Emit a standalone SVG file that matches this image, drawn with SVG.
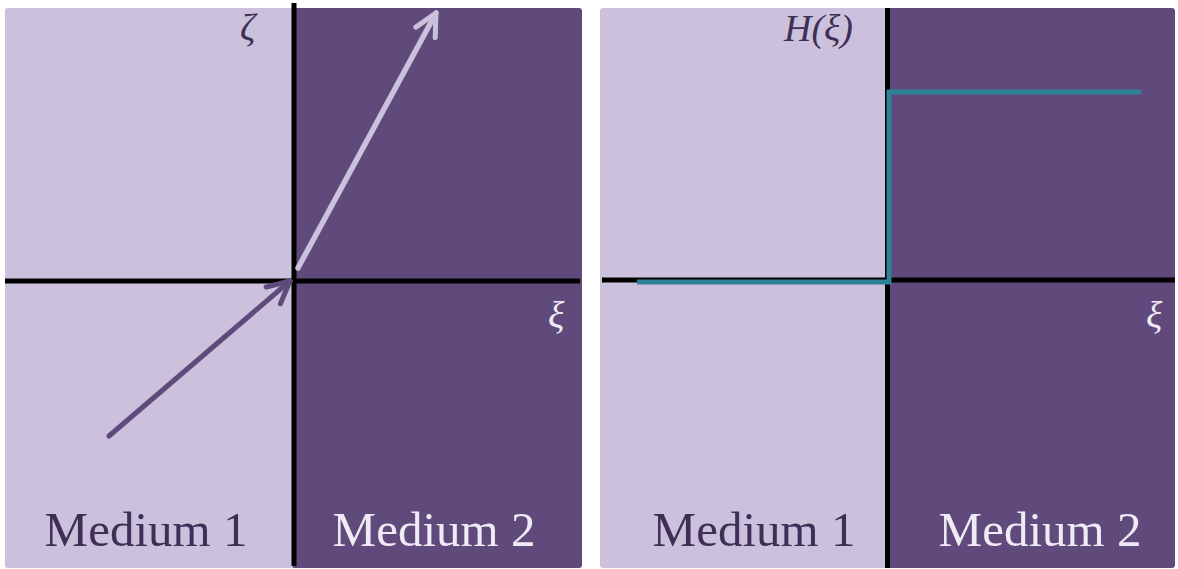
<svg xmlns="http://www.w3.org/2000/svg" width="1178" height="569" viewBox="0 0 1178 569">
<style>
.light{fill:#cbc1dc}
.dark{fill:#5f4a7b}
.axis{stroke:#000;stroke-width:5;fill:none}
.lbl{font-family:"Liberation Serif",serif;font-size:49px;text-anchor:middle}
.math{font-family:"Liberation Serif",serif;font-style:italic;font-size:38px}
.tdark{fill:#3f2f56}
.tlight{fill:#efeaf5}
</style>
<defs>
<marker id="headDark" markerUnits="userSpaceOnUse" orient="auto" overflow="visible" markerWidth="1" markerHeight="1">
<path d="M-22,-11 L0,0 L-22,11" fill="none" stroke="#5f4a7b" stroke-width="5" stroke-linecap="round" stroke-linejoin="round"/>
</marker>
<marker id="headLight" markerUnits="userSpaceOnUse" orient="auto" overflow="visible" markerWidth="1" markerHeight="1">
<path d="M-22,-11 L0,0 L-22,11" fill="none" stroke="#cbc1dc" stroke-width="5" stroke-linecap="round" stroke-linejoin="round"/>
</marker>
</defs>
<rect width="1178" height="569" fill="#fff"/>
<g id="panel-left">
<rect class="light" x="5" y="8" width="292" height="560" rx="3"/>
<rect class="dark" x="293" y="8" width="289" height="560" rx="3"/>
<rect class="dark" x="293" y="8" width="10" height="560"/>
<line class="axis" x1="5" y1="281" x2="580" y2="281"/>
<line class="axis" x1="294" y1="3" x2="294" y2="566"/>
<text class="math tdark" x="240" y="40">ζ</text>
<text class="math tlight" x="548" y="328">ξ</text>
<text class="lbl tdark" x="146" y="546">Medium 1</text>
<text class="lbl tlight" x="434" y="546">Medium 2</text>
</g>
<g id="panel-right">
<rect class="light" x="600" y="8" width="290" height="560" rx="3"/>
<rect class="dark" x="887" y="8" width="288" height="560" rx="3"/>
<rect class="dark" x="887" y="8" width="10" height="560"/>
<line class="axis" x1="602" y1="280" x2="1175" y2="280"/>
<line class="axis" x1="887.5" y1="8" x2="887.5" y2="568"/>
<text class="math tdark" x="784" y="41">H(ξ)</text>
<text class="math tlight" x="1146" y="328">ξ</text>
<text class="lbl tdark" x="754" y="546">Medium 1</text>
<text class="lbl tlight" x="1040" y="546">Medium 2</text>
</g>
<g id="connectors">
<line x1="109" y1="436" x2="290" y2="281" stroke="#5f4a7b" stroke-width="5" stroke-linecap="round" marker-end="url(#headDark)"/>
<line x1="298" y1="268" x2="436" y2="13" stroke="#cbc1dc" stroke-width="5.5" stroke-linecap="round" marker-end="url(#headLight)"/>
<polyline points="637,282 889,282 889,92 1141,92" fill="none" stroke="#2f8196" stroke-width="5"/>
</g>
</svg>
